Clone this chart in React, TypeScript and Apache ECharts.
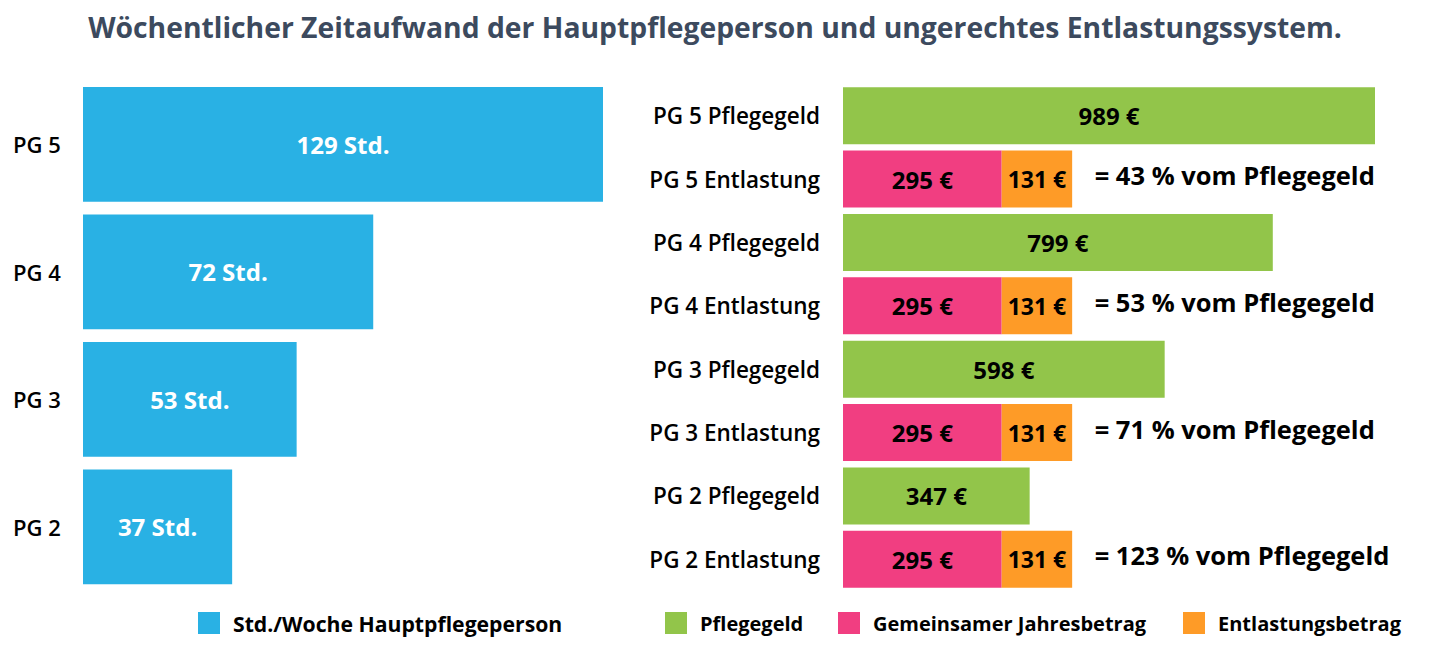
import React, { useEffect, useRef } from "react";
import * as echarts from "echarts";

const titleText = "Wöchentlicher Zeitaufwand der Hauptpflegeperson und ungerechtes Entlastungssystem.";

const leftCategories = ["PG 5", "PG 4", "PG 3", "PG 2"];
const hoursPerWeek = [129, 72, 53, 37];

const rightCategories = [
  "PG 5 Pflegegeld",
  "PG 5 Entlastung",
  "PG 4 Pflegegeld",
  "PG 4 Entlastung",
  "PG 3 Pflegegeld",
  "PG 3 Entlastung",
  "PG 2 Pflegegeld",
  "PG 2 Entlastung",
];
const pflegegeld: (number | string)[] = [989, "-", 799, "-", 598, "-", 347, "-"];
const jahresbetrag: (number | string)[] = ["-", 295, "-", 295, "-", 295, "-", 295];
const entlastungsbetrag: (number | string)[] = ["-", 131, "-", 131, "-", 131, "-", 131];
const percentOfPflegegeld = [43, 53, 71, 123];

const seriesNames = {
  hours: "Std./Woche Hauptpflegeperson",
  pflegegeld: "Pflegegeld",
  jahresbetrag: "Gemeinsamer Jahresbetrag",
  entlastung: "Entlastungsbetrag",
};

const COLORS = {
  blue: "#29b1e4",
  green: "#92c54a",
  pink: "#f13e81",
  orange: "#fe9b27",
  title: "#3c4a5e",
};

const FONT = "'Open Sans', 'Noto Sans', sans-serif";

export default function App() {
  const ref = useRef<HTMLDivElement>(null);

  useEffect(() => {
    if (!ref.current) return;
    const chart = echarts.init(ref.current, undefined, { renderer: "svg" });

    const annotationData: any[] = [];
    let k = 0;
    rightCategories.forEach((c, i) => {
      if (typeof jahresbetrag[i] === "number") {
        annotationData.push({
          value: [(jahresbetrag[i] as number) + (entlastungsbetrag[i] as number), c],
          pct: percentOfPflegegeld[k++],
        });
      }
    });

    const mkLegend = (name: string, left: number, size: number) => ({
      data: [name],
      left,
      top: 612,
      padding: 0,
      itemWidth: 22,
      itemHeight: 22,
      itemGap: 12,
      icon: "rect",
      selectedMode: false,
      textStyle: {
        fontFamily: FONT,
        fontWeight: "bold",
        fontSize: size,
        color: "#000",
        padding: [0, 0, 0, 8],
      },
    });

    const barLabel = (color: string, size: number) => ({
      show: true,
      position: "inside" as const,
      color,
      fontFamily: FONT,
      fontWeight: "bold" as const,
      fontSize: size,
    });

    chart.setOption({
      animation: false,
      textStyle: { fontFamily: FONT },
      title: {
        text: titleText,
        left: "center",
        top: 8,
        textStyle: { fontFamily: FONT, fontWeight: "bold", fontSize: 28.3, color: COLORS.title },
      },
      legend: [
        mkLegend(seriesNames.hours, 198, 21.2),
        mkLegend(seriesNames.pflegegeld, 665, 20),
        mkLegend(seriesNames.jahresbetrag, 838, 20),
        mkLegend(seriesNames.entlastung, 1183, 20),
      ],
      grid: [
        { left: 83, top: 80.5, width: 520, height: 510 },
        { left: 843, top: 84, width: 532, height: 507 },
      ],
      xAxis: [
        { type: "value", gridIndex: 0, min: 0, max: Math.max(...hoursPerWeek), show: false },
        {
          type: "value",
          gridIndex: 1,
          min: 0,
          max: Math.max(...(pflegegeld.filter((v) => typeof v === "number") as number[])),
          show: false,
        },
      ],
      yAxis: [
        {
          type: "category",
          gridIndex: 0,
          data: leftCategories,
          inverse: true,
          axisLine: { show: false },
          axisTick: { show: false },
          splitLine: { show: false },
          axisLabel: { align: "left", margin: 70, fontSize: 22, fontWeight: 600, color: "#000", fontFamily: FONT },
        },
        {
          type: "category",
          gridIndex: 1,
          data: rightCategories,
          inverse: true,
          axisLine: { show: false },
          axisTick: { show: false },
          splitLine: { show: false },
          axisLabel: { margin: 23, fontSize: 22.5, fontWeight: 600, color: "#000", fontFamily: FONT },
        },
      ],
      series: [
        {
          name: seriesNames.hours,
          type: "bar",
          xAxisIndex: 0,
          yAxisIndex: 0,
          data: hoursPerWeek,
          barCategoryGap: "10%",
          itemStyle: { color: COLORS.blue },
          label: { ...barLabel("#fff", 24), formatter: (p: any) => `${p.value} Std.` },
        },
        {
          name: seriesNames.pflegegeld,
          type: "bar",
          stack: "r",
          xAxisIndex: 1,
          yAxisIndex: 1,
          data: pflegegeld,
          barCategoryGap: "10%",
          itemStyle: { color: COLORS.green },
          label: { ...barLabel("#000", 24), formatter: (p: any) => `${p.value} €` },
        },
        {
          name: seriesNames.jahresbetrag,
          type: "bar",
          stack: "r",
          xAxisIndex: 1,
          yAxisIndex: 1,
          data: jahresbetrag,
          barCategoryGap: "10%",
          itemStyle: { color: COLORS.pink },
          label: { ...barLabel("#000", 24), formatter: (p: any) => `${p.value} €` },
        },
        {
          name: seriesNames.entlastung,
          type: "bar",
          stack: "r",
          xAxisIndex: 1,
          yAxisIndex: 1,
          data: entlastungsbetrag,
          barCategoryGap: "10%",
          itemStyle: { color: COLORS.orange },
          label: { ...barLabel("#000", 23), formatter: (p: any) => `${p.value} €` },
        },
        {
          name: "annotation",
          type: "scatter",
          xAxisIndex: 1,
          yAxisIndex: 1,
          symbolSize: 1,
          itemStyle: { color: "rgba(0,0,0,0)" },
          silent: true,
          data: annotationData,
          label: {
            show: true,
            position: "right",
            distance: 22,
            offset: [0, -4],
            color: "#000",
            opacity: 1,
            fontFamily: FONT,
            fontWeight: "bold",
            fontSize: 25.5,
            formatter: (p: any) => `= ${p.data.pct} % vom Pflegegeld`,
          },
        },
      ],
    });

    return () => chart.dispose();
  }, []);

  return (
    <div
      ref={ref}
      style={{ position: "absolute", left: 0, top: 0, width: 1430, height: 652, background: "#fff" }}
    />
  );
}
